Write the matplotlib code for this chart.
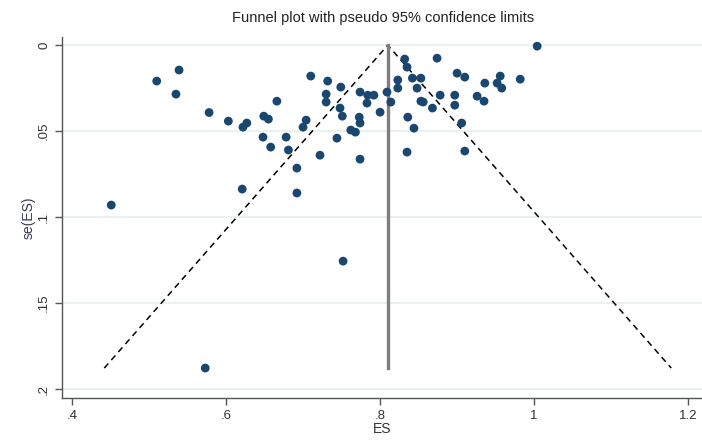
import matplotlib
matplotlib.use("Agg")
import matplotlib.pyplot as plt
import numpy as np

plt.rcParams['font.family'] = ['Liberation Sans', 'DejaVu Sans']

# Effect sizes and standard errors
es = [1.004, 0.510, 0.539, 0.535, 0.578, 0.603, 0.627, 0.622, 0.649, 0.655,
      0.648, 0.666, 0.678, 0.658, 0.681, 0.692, 0.621, 0.692, 0.704, 0.700,
      0.722, 0.744, 0.710, 0.732, 0.749, 0.730, 0.730, 0.748, 0.751, 0.762,
      0.768, 0.774, 0.774, 0.773, 0.774, 0.784, 0.792, 0.783, 0.800, 0.809,
      0.814, 0.823, 0.823, 0.832, 0.835, 0.874, 0.900, 0.910, 0.956, 0.952,
      0.958, 0.982, 0.936, 0.842, 0.853, 0.848, 0.878, 0.897, 0.897, 0.926,
      0.935, 0.853, 0.856, 0.868, 0.906, 0.836, 0.844, 0.835, 0.910, 0.451,
      0.573, 0.752]
se = [0.0006, 0.0209, 0.0145, 0.0285, 0.0392, 0.0442, 0.0453, 0.0477, 0.0413, 0.0430,
      0.0535, 0.0326, 0.0535, 0.0593, 0.0610, 0.0715, 0.0837, 0.0860, 0.0436, 0.0477,
      0.0640, 0.0541, 0.0180, 0.0209, 0.0244, 0.0285, 0.0331, 0.0366, 0.0413, 0.0494,
      0.0506, 0.0663, 0.0273, 0.0419, 0.0453, 0.0291, 0.0291, 0.0337, 0.0390, 0.0273,
      0.0331, 0.0203, 0.0250, 0.0081, 0.0128, 0.0076, 0.0163, 0.0186, 0.0180, 0.0221,
      0.0250, 0.0198, 0.0221, 0.0192, 0.0192, 0.0250, 0.0291, 0.0291, 0.0349, 0.0297,
      0.0326, 0.0326, 0.0331, 0.0366, 0.0453, 0.0419, 0.0483, 0.0622, 0.0616, 0.0930,
      0.1878, 0.1256]
pooled_es = 0.81

x_ticks = [0.4, 0.6, 0.8, 1.0, 1.2]
x_ticklabels = ['.4', '.6', '.8', '1', '1.2']
y_ticks = [0, 0.05, 0.1, 0.15, 0.2]
y_ticklabels = ['0', '.05', '.1', '.15', '.2']

fig = plt.figure(figsize=(7.02, 4.41), dpi=100)
ax = fig.add_axes([0.0883, 0.0975, 0.9117, 0.8185])

se_max = max(se)
# pseudo 95% confidence limits
ax.plot([pooled_es - 1.96 * se_max, pooled_es, pooled_es + 1.96 * se_max],
        [se_max, 0, se_max], color='black', lw=1.1, ls=(0, (4, 3)), zorder=2)
ax.plot([pooled_es, pooled_es], [0, se_max], color='#7f7f7f', lw=2.4, zorder=2)

ax.scatter(es, se, s=40, color='#1a476f', edgecolors='none', zorder=3)

ax.set_xlim(0.387, 1.218)
ax.set_ylim(0.2052, -0.0047)
ax.set_xticks(x_ticks)
ax.set_xticklabels(x_ticklabels)
ax.set_yticks(y_ticks)
ax.set_yticklabels(y_ticklabels, rotation=90, va='center')

ax.grid(axis='y', color='#e8f0f2', lw=1.3, zorder=0)
ax.grid(axis='x', visible=False)
for s in ['top', 'right']:
    ax.spines[s].set_visible(False)
for s in ['left', 'bottom']:
    ax.spines[s].set_color('#555555')
    ax.spines[s].set_linewidth(1.0)
ax.tick_params(axis='both', colors='#555555', labelcolor='#333333',
               labelsize=9.5, length=5, width=1.0)

ax.set_xlabel('ES', fontsize=10, color='#333333', labelpad=0)
ax.set_ylabel('se(ES)', fontsize=10, color='#3a3a5a', labelpad=2)
fig.suptitle('Funnel plot with pseudo 95% confidence limits', fontsize=10.5,
             color='#222222', y=0.975, x=0.545)

fig.savefig('out.png', dpi=100)
